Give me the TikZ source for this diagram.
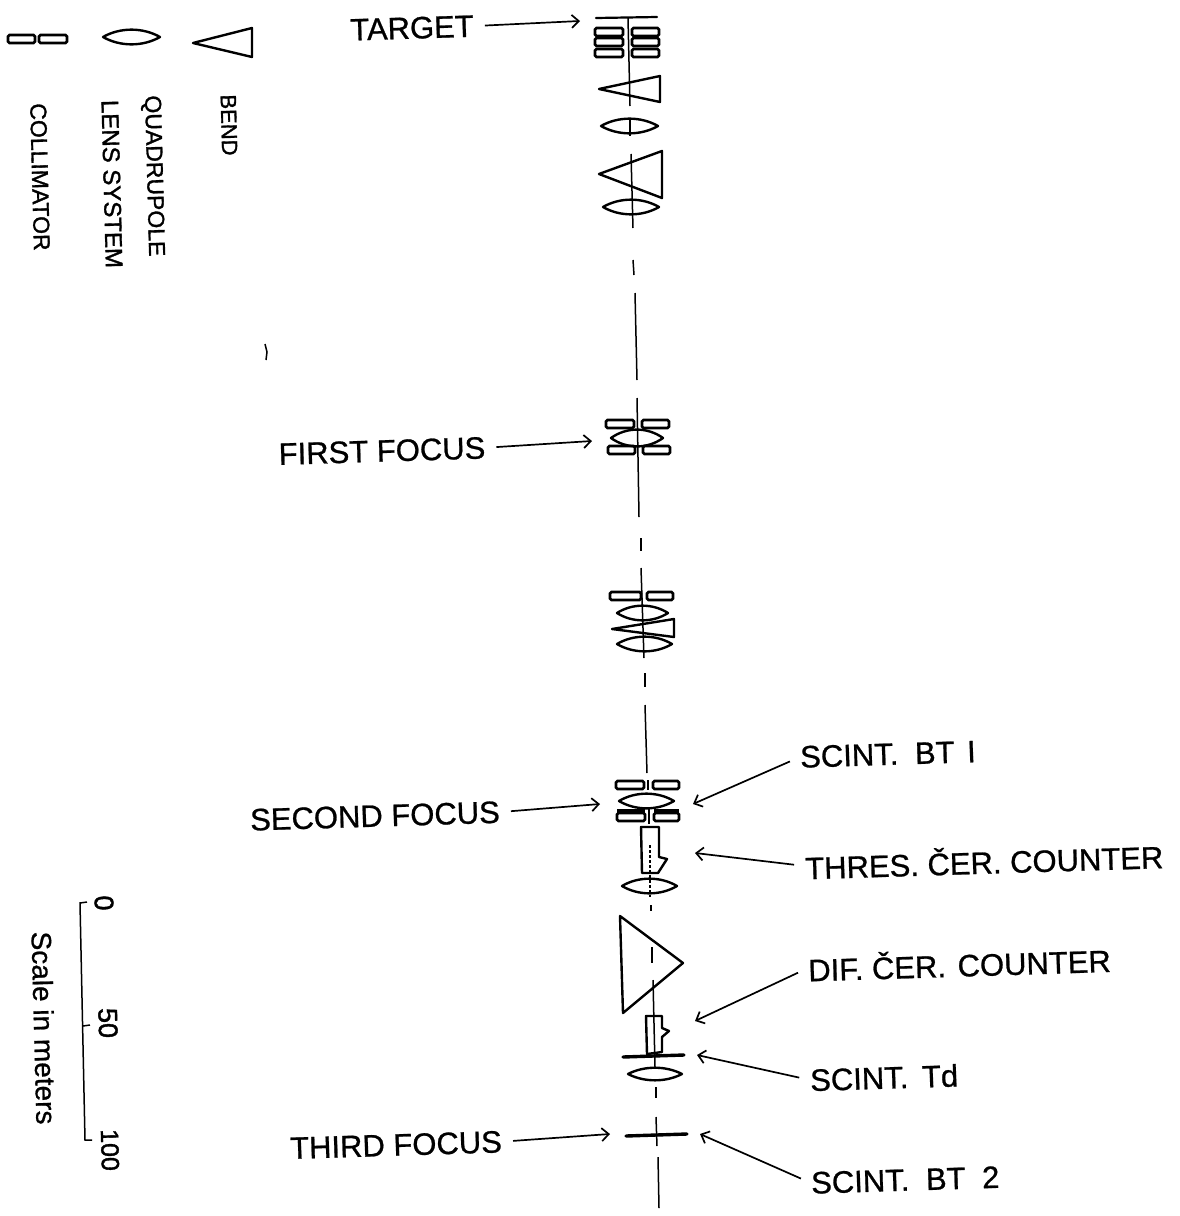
\documentclass[tikz,border=0pt]{standalone}
\usepackage{fontspec}
\setmainfont{Liberation Sans}
\newfontfamily\heavyfont[FakeBold=1.4]{Liberation Sans}
\newfontfamily\labelfont[FakeBold=0.8]{Liberation Sans}
\usetikzlibrary{arrows.meta, positioning}
\tikzset{
  beam/.style={line width=1.5pt, color=black},
  magnet/.style={line width=2.4pt, color=black, line join=round},
  slit/.style={line width=2.8pt, color=black, rounded corners=1.5pt},
  foil/.style={line width=3.4pt, color=black, line cap=round},
  arrow/.style={-{Straight Barb[length=7pt,width=13pt]}, line width=1.7pt, color=black, shorten <=11pt},
  lbl/.style={font=\labelfont\fontsize{31}{33}\selectfont, inner sep=0pt, rotate=1.8},
  legend/.style={font=\heavyfont\fontsize{23}{25}\selectfont, inner sep=0pt, rotate=-88.5}
}
% lens: left x, right x, y, half height
\newcommand{\quadlens}[4]{\draw[magnet] (#1,#3) .. controls ({#1+0.3*(#2-#1)},{#3-1.4*#4}) and ({#2-0.3*(#2-#1)},{#3-1.4*#4}) .. (#2,#3) .. controls ({#2-0.3*(#2-#1)},{#3+1.4*#4}) and ({#1+0.3*(#2-#1)},{#3+1.4*#4}) .. cycle;}
% slit pair: x1, x2, x3, x4, y
\newcommand{\slitpair}[5]{\draw[slit] (#1,#5-4) rectangle (#2,#5+4); \draw[slit] (#3,#5-4) rectangle (#4,#5+4);}
\begin{document}
\begin{tikzpicture}[x=1pt, y=-1pt]
  \useasboundingbox (0,0) rectangle (1179,1216);

  % Legend
  \draw[magnet] (193,43) -- (252,28) -- (252,57) -- cycle;
  \quadlens{103}{160}{37}{7}
  \slitpair{8}{35}{39}{67}{39}
  \node[legend, font=\heavyfont\fontsize{22}{24}\selectfont] (bendtxt) at (229,125) {BEND};
  \node[legend] (quadtxt) at (153,176) {QUADRUPOLE};
  \node[legend, font=\heavyfont\fontsize{24}{26}\selectfont] (lenstxt) at (112,184) {LENS SYSTEM};
  \node[legend] (colltxt) at (40,177) {COLLIMATOR};
  \draw[beam] (265,344) -- (267,352) -- (266,360);

  % Beam axis
  \draw[beam] (628,18) -- (630,106);
  \draw[beam] (630,120) -- (630,136);
  \draw[beam] (631,154) -- (633,228);
  \draw[beam] (633,260) -- (634,275);
  \draw[beam] (635,293) -- (637,380);
  \draw[beam] (637,398) -- (639,517);
  \draw[beam] (641,538) -- (641,551);
  \draw[beam] (641,568) -- (644,658);
  \draw[beam] (645,673) -- (645,687);
  \draw[beam] (645,705) -- (647,773);
  \draw[beam] (648,780) -- (648,790);
  \draw[beam] (649,808) -- (649,824);
  \draw[beam, densely dashed] (650,845) -- (650,897);
  \draw[beam] (651,905) -- (651,911);
  \draw[beam] (652,947) -- (652,963);
  \draw[beam] (653,980) -- (655,1067);
  \draw[beam] (656,1087) -- (656,1098);
  \draw[beam] (656,1117) -- (657,1146);
  \draw[beam] (658,1157) -- (659,1208);

  % Target
  \draw[foil, line width=2.2pt] (596,18) -- (657,17);
  \slitpair{595}{623}{632}{659}{32}
  \slitpair{595}{623}{632}{659}{42}
  \slitpair{595}{623}{632}{659}{53}
  \draw[magnet] (599,89) -- (660,76) -- (660,102) -- cycle;
  \quadlens{601}{658}{126}{7}
  \draw[magnet] (599,174) -- (662,151) -- (662,198) -- cycle;
  \quadlens{603}{659}{207}{7}

  % First focus
  \slitpair{606}{634}{642}{669}{424}
  \quadlens{611}{663}{438}{8}
  \slitpair{608}{635}{643}{670}{450}

  % Middle group
  \slitpair{610}{641}{647}{673}{596}
  \quadlens{617}{668}{613}{7}
  \draw[magnet] (612,629) -- (674,619) -- (674,637) -- cycle;
  \quadlens{617}{672}{644}{7}

  % Second focus
  \slitpair{616}{644}{653}{679}{785}
  \quadlens{619}{674}{801}{7}
  \slitpair{617}{645}{654}{679}{817}
  \draw[line width=4pt] (617,811) -- (645,811);
  \draw[line width=4pt] (654,811) -- (679,811);

  % Threshold counter
  \draw[magnet] (659,857) -- (659,827) -- (641,827) -- (642,873) -- (658,873) -- (667,859) -- cycle;
  \quadlens{622}{677}{886}{7}

  % Big bend
  \draw[magnet] (620,916) -- (683,963) -- (623,1013) -- cycle;

  % Differential counter
  \draw[magnet] (662,1028) -- (662,1016) -- (646,1016) -- (647,1054) -- (662,1052) -- (662,1037) -- (669,1031) -- cycle;
  \draw[foil] (623,1057) -- (684,1055);
  \quadlens{628}{682}{1074}{6}

  % Third focus
  \draw[foil] (626,1136) -- (687,1134);

  % Labels left
  \node[lbl] (target) at (412,28) {TARGET};
  \node[lbl] (first) at (382,451) {FIRST FOCUS};
  \node[lbl] (second) at (375,816) {SECOND FOCUS};
  \node[lbl] (third) at (396,1145) {THIRD FOCUS};

  % Labels right
  \node[lbl, anchor=west] (btone) at (800,757) {SCINT.\hspace{8pt} BT\hspace{4pt} I};
  \node[lbl, anchor=west] (thres) at (805,866) {THRES. ČER. COUNTER};
  \node[lbl, anchor=west] (dif) at (808,968) {DIF. ČER.\hspace{3pt} COUNTER};
  \node[lbl, anchor=west] (td) at (810,1080) {SCINT.\hspace{5pt} Td};
  \node[lbl, anchor=west] (bttwo) at (811,1183) {SCINT.\hspace{8pt} BT\hspace{8pt} 2};

  % Arrow ends
  \coordinate (targetend) at (580,21);
  \coordinate (firstend) at (592,441);
  \coordinate (secondend) at (600,804);
  \coordinate (thirdend) at (610,1134);
  \coordinate (btoneend) at (693,804);
  \coordinate (thresend) at (695,853);
  \coordinate (difend) at (695,1021);
  \coordinate (tdend) at (697,1055);
  \coordinate (bttwoend) at (700,1134);

  % Connections
  \draw[arrow] (target.east) -- (targetend);
  \draw[arrow] (first.east) -- (firstend);
  \draw[arrow] (second.east) -- (secondend);
  \draw[arrow] (third.east) -- (thirdend);
  \draw[arrow] (btone.west) -- (btoneend);
  \draw[arrow] (thres.west) -- (thresend);
  \draw[arrow] (dif.west) -- (difend);
  \draw[arrow] (td.west) -- (tdend);
  \draw[arrow] (bttwo.west) -- (bttwoend);

  % Scale
  \draw[beam] (87,902) -- (80,903) -- (85,1140) -- (92,1140);
  \draw[beam] (83,1026) -- (90,1025);
  \node[legend, font=\heavyfont\fontsize{27}{29}\selectfont] (zero) at (104,903) {0};
  \node[legend, font=\heavyfont\fontsize{27}{29}\selectfont] (fifty) at (108,1023) {50};
  \node[legend, font=\heavyfont\fontsize{25}{27}\selectfont] (hundred) at (110,1150) {100};
  \node[legend, font=\labelfont\fontsize{28}{30}\selectfont] (scaletxt) at (44,1028) {Scale in meters};
\end{tikzpicture}
\end{document}
